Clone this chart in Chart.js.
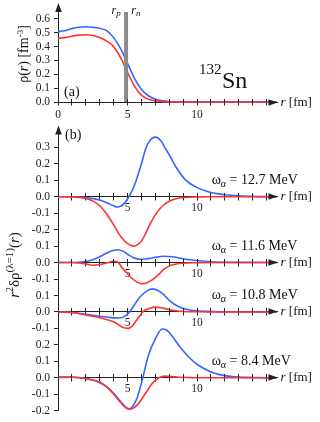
<!DOCTYPE html>
<html><head><meta charset="utf-8">
<script src="https://cdn.jsdelivr.net/npm/chart.js@4.4.1/dist/chart.umd.min.js"></script>
<style>
html,body{margin:0;padding:0;background:#fff;}
#wrap{position:relative;width:320px;height:422px;overflow:hidden;background:#fff;}
canvas{position:absolute;left:0;}
#ca{top:0;width:320px;height:122px;}
#cb{top:120px;width:320px;height:302px;}
</style></head><body>
<div id="wrap"><canvas id="ca" width="320" height="122"></canvas><canvas id="cb" width="320" height="302"></canvas></div>
<script>
// ---------- DATA ----------
// panel (a): ground-state densities of 132Sn
const rA   = [0,0.5,1,1.5,2,2.5,3,3.5,4,4.5,5,5.5,6,6.5,7,7.5,8,9,10,12,15.75];
const rhoN = [0.508,0.515,0.53,0.54,0.543,0.54,0.532,0.515,0.465,0.385,0.28,0.17,0.09,0.045,0.02,0.009,0.004,0.001,0,0,0];
const rhoP = [0.46,0.465,0.475,0.483,0.486,0.48,0.465,0.44,0.40,0.32,0.215,0.115,0.05,0.02,0.008,0.003,0.001,0,0,0,0];
const radii = [4.75, 5.05];        // r_p, r_n
const barTop = 0.65;
const rhoTicks = [0,0.1,0.2,0.3,0.4,0.5,0.6];
const rTicks = [0,1,2,3,4,5,6,7,8,9,10,11,12,13,14,15];
const rLabelsA = [0,5,10];
const rLabelsB = [5,10];
const rMax = 15.75;

// panel (b): transition densities r^2 drho(r)
const energies = ['12.7','11.6','10.8','8.4'];
const r127n = [0,1,2,2.5,3,3.5,4,4.25,4.5,4.75,5.1,5.5,5.8,6.0,6.3,6.6,7.0,7.4,7.7,8.0,8.45,9.15,9.9,10.8,12,13,14,15.75];
const d127n = [0,0,-0.005,-0.011,-0.02,-0.036,-0.055,-0.062,-0.058,-0.042,0,0.07,0.146,0.2,0.29,0.34,0.362,0.34,0.296,0.255,0.185,0.104,0.06,0.03,0.012,0.005,0.002,0];
const r127p = [0,1,1.5,2,2.5,3,3.5,4,4.5,5,5.45,5.9,6.2,6.6,7,7.5,8,8.5,9,10,11,15.75];
const d127p = [0,-0.001,-0.004,-0.01,-0.025,-0.055,-0.105,-0.17,-0.24,-0.285,-0.30,-0.28,-0.24,-0.17,-0.11,-0.058,-0.027,-0.012,-0.005,-0.001,0,0];

const r116n = [0,1,1.5,2,2.5,3,3.5,4,4.3,4.7,5.1,5.5,6,6.5,7,7.6,8.2,8.9,9.5,10.1,11,12,13,15.75];
const d116n = [0,0,0.002,0.006,0.017,0.035,0.058,0.075,0.078,0.068,0.045,0.027,0.019,0.024,0.032,0.038,0.035,0.025,0.017,0.011,0.005,0.002,0.001,0];
const r116p = [0,1,1.5,2,2.45,3,3.5,4,4.3,4.6,5,5.5,6,6.4,6.8,7.2,7.6,8,8.5,9,10,11,15.75];
const d116p = [0,0,-0.003,-0.008,-0.016,-0.012,-0.002,0.008,0.003,-0.03,-0.068,-0.108,-0.128,-0.122,-0.104,-0.075,-0.042,-0.02,-0.009,-0.004,-0.001,0,0];

const r108n = [0,1,1.5,2,2.5,3,3.5,4,4.4,4.8,5.1,5.4,5.7,6,6.4,6.8,7.2,7.6,8,8.4,8.9,9.5,10,11,12,15.75];
const d108n = [0,-0.003,-0.008,-0.014,-0.02,-0.026,-0.031,-0.036,-0.037,-0.027,-0.005,0.03,0.07,0.1,0.128,0.14,0.13,0.105,0.07,0.045,0.024,0.012,0.007,0.003,0.001,0];
const r108p = [0,1,1.5,2,2.5,3,3.5,4,4.3,4.6,5.05,5.35,5.65,5.95,6.2,6.6,7,7.5,8,8.5,9,10,11,15.75];
const d108p = [0,-0.003,-0.01,-0.018,-0.026,-0.035,-0.046,-0.06,-0.075,-0.092,-0.1,-0.085,-0.05,-0.015,0.008,0.022,0.029,0.024,0.014,0.007,0.003,0.001,0,0];

const r84n = [0,1,1.5,2,2.5,3,3.5,4,4.5,5,5.15,5.4,5.7,6.1,6.5,7,7.5,7.8,8,8.7,9.4,10.1,11.1,12,13,14,15.75];
const d84n = [0.004,0.005,0.002,-0.004,-0.014,-0.03,-0.055,-0.094,-0.145,-0.186,-0.19,-0.17,-0.12,0,0.136,0.236,0.296,0.29,0.275,0.196,0.126,0.076,0.032,0.013,0.004,0.002,0];
const r84p = [0,1,1.5,2,2.5,3,3.5,4,4.5,5,5.2,5.7,6.3,6.8,7.25,7.7,8.2,8.7,9.5,10,15.75];
const d84p = [0.002,0.003,0,-0.005,-0.013,-0.026,-0.055,-0.098,-0.15,-0.188,-0.19,-0.165,-0.094,-0.032,0,0.01,0.007,0.003,0.001,0,0];

const yRanges = [[-0.3,0.4],[-0.2,0.1],[-0.2,0.1],[-0.2,0.2]];
const yTickVals = [[0.3,0.2,0.1,0,-0.1,-0.2],[0.1,0,-0.1],[0.1,0,-0.1],[0.2,0.1,0,-0.1,-0.2]];
const seriesB = [[r127p,d127p,r127n,d127n],[r116p,d116p,r116n,d116n],[r108p,d108p,r108n,d108n],[r84p,d84p,r84n,d84n]];

// ---------- STYLE ----------
const BLUE = '#3366ff', RED = '#ff3333', GRAY = '#8a8a8a', AX = '#222', TXT = '#111';
const FAM = "'Liberation Serif', serif";
Chart.defaults.font.family = FAM;
Chart.defaults.font.size = 11;
const tickFont = {family: FAM, size: 11.5};
const F = (s, st) => (st ? st + ' ' : '') + s + 'px ' + FAM;
const pts = (xs, ys) => xs.map((x, i) => ({x, y: ys[i]}));
const line = (data, color, xid, yid) => ({data, borderColor: color, borderWidth: 1.6, pointRadius: 0,
  cubicInterpolationMode: 'monotone', fill: false, clip: false, xAxisID: xid, yAxisID: yid});
const align = v => Math.round(v - 0.5) + 0.5;

function drawRuns(ctx, x, y, parts, opts) {
  opts = opts || {};
  ctx.save(); ctx.translate(x, y); if (opts.rotate) ctx.rotate(opts.rotate);
  ctx.fillStyle = TXT; ctx.textBaseline = 'alphabetic'; ctx.textAlign = 'left';
  let total = 0;
  for (const p of parts) { ctx.font = p.f; total += ctx.measureText(p.t).width; }
  let cx = opts.center ? -total / 2 : 0;
  for (const p of parts) { ctx.font = p.f; ctx.fillText(p.t, cx, p.dy || 0); cx += ctx.measureText(p.t).width; }
  ctx.restore();
}
function arrow(ctx, tx, ty, dir) {
  const L = 9, W = 3.3;
  ctx.beginPath();
  if (dir === 'up') { ctx.moveTo(tx, ty); ctx.lineTo(tx - W, ty + L); ctx.lineTo(tx + W, ty + L); }
  else { ctx.moveTo(tx, ty); ctx.lineTo(tx - L, ty - W); ctx.lineTo(tx - L, ty + W); }
  ctx.closePath(); ctx.fill();
}
function xAxisDecor(ctx, xs, y0) {
  const yy = align(y0);
  ctx.beginPath();
  for (const t of rTicks) { const px = align(xs.getPixelForValue(t)); ctx.moveTo(px, yy); ctx.lineTo(px, yy - 3.5); }
  ctx.stroke();
  arrow(ctx, xs.right + 0.5, yy, 'right');
  drawRuns(ctx, xs.right + 3.5, yy + 3.5, [{t: 'r', f: F(13, 'italic')}, {t: ' [fm]', f: F(13)}]);
}
const common = {responsive: false, animation: false, devicePixelRatio: 1, events: [],
  plugins: {legend: {display: false}, tooltip: {enabled: false}, title: {display: false}}};

// ---------- PANEL (a) ----------
const decorA = {id: 'decorA', afterDraw(chart) {
  const {ctx, chartArea: a, scales: {x, y}} = chart;
  ctx.save(); ctx.strokeStyle = AX; ctx.fillStyle = AX; ctx.lineWidth = 1;
  const ax = align(x.getPixelForValue(0));
  ctx.beginPath(); ctx.moveTo(ax, a.top); ctx.lineTo(ax, 11); ctx.stroke();
  arrow(ctx, ax, 3, 'up');
  xAxisDecor(ctx, x, y.getPixelForValue(0));
  ctx.restore();
  drawRuns(ctx, 64, 96, [{t: '(a)', f: F(14)}]);
  drawRuns(ctx, 199, 74, [{t: '132', f: F(15)}]);
  drawRuns(ctx, 222, 87.5, [{t: 'Sn', f: F(24)}]);
  const bx0 = x.getPixelForValue(radii[0]), bx1 = x.getPixelForValue(radii[1]);
  drawRuns(ctx, bx0 - 12.5, 13.5, [{t: 'r', f: F(12, 'italic')}, {t: 'p', f: F(9, 'italic'), dy: 2.5}]);
  drawRuns(ctx, bx1 + 3, 13.5, [{t: 'r', f: F(12, 'italic')}, {t: 'n', f: F(9, 'italic'), dy: 2.5}]);
  drawRuns(ctx, 28, 54, [{t: 'ρ(', f: F(14)}, {t: 'r', f: F(14, 'italic')}, {t: ') [fm', f: F(14)},
    {t: '-3', f: F(9), dy: -5.5}, {t: ']', f: F(14)}], {rotate: -Math.PI / 2, center: true});
}};

new Chart(document.getElementById('ca'), {
  type: 'line',
  data: {datasets: [
    {data: radii.map(r => ({x: r, y: barTop})), fill: 'origin', backgroundColor: GRAY, borderWidth: 0,
     pointRadius: 0, tension: 0, clip: false},
    line(pts(rA, rhoP), RED, 'x', 'y'),
    line(pts(rA, rhoN), BLUE, 'x', 'y')
  ]},
  options: Object.assign({}, common, {
    layout: {padding: {left: 0, right: 43, top: 12, bottom: 0}},
    scales: {
      x: {type: 'linear', position: 'bottom', min: 0, max: rMax,
        afterBuildTicks: s => { s.ticks = rTicks.map(v => ({value: v})); },
        afterFit: s => { s.height = 20; },
        ticks: {autoSkip: false, maxRotation: 0, padding: 3, color: AX, font: tickFont,
          callback: v => rLabelsA.includes(v) ? String(v) : ''},
        grid: {drawOnChartArea: false, drawTicks: true, tickLength: 3.5, color: AX},
        border: {display: true, color: AX, width: 1}},
      y: {type: 'linear', position: 'left', min: 0, max: barTop,
        afterBuildTicks: s => { s.ticks = rhoTicks.map(v => ({value: v})); },
        afterFit: s => { s.width = 58; },
        ticks: {autoSkip: false, padding: 4, color: AX, font: tickFont, callback: v => v.toFixed(1)},
        grid: {drawOnChartArea: false, drawTicks: true, tickLength: 4, color: AX},
        border: {display: true, color: AX, width: 1}}
    }
  }),
  plugins: [decorA]
});

// ---------- PANEL (b) ----------
const scalesB = {};
const datasetsB = [];
energies.forEach((E, i) => {
  const xid = 'x' + i, yid = 'y' + i;
  const [lo, hi] = yRanges[i];
  scalesB[yid] = {type: 'linear', position: 'left', stack: 'b', stackWeight: Math.round((hi - lo) * 10),
    weight: 10 - i, min: lo, max: hi,
    afterBuildTicks: s => { s.ticks = yTickVals[i].map(v => ({value: v})); },
    afterFit: s => { s.width = 58; },
    ticks: {autoSkip: false, padding: 4, color: AX, font: tickFont, callback: v => v.toFixed(1)},
    grid: {drawOnChartArea: false, drawTicks: true, tickLength: 4, color: AX},
    border: {display: true, color: AX, width: 1}};
  scalesB[xid] = {type: 'linear', position: {[yid]: 0}, min: 0, max: rMax,
    afterBuildTicks: s => { s.ticks = rTicks.map(v => ({value: v})); },
    ticks: {autoSkip: false, maxRotation: 0, padding: 1, color: AX, font: tickFont,
      callback: v => rLabelsB.includes(v) ? String(v) : ''},
    grid: {drawOnChartArea: false, drawTicks: true, tickLength: 3.5, color: AX},
    border: {display: true, color: AX, width: 1}};
  const [rp, dp, rn, dn] = seriesB[i];
  datasetsB.push(line(pts(rp, dp), RED, xid, yid));
  datasetsB.push(line(pts(rn, dn), BLUE, xid, yid));
});

const decorB = {id: 'decorB', afterDraw(chart) {
  const {ctx, chartArea: a, scales} = chart;
  ctx.save(); ctx.strokeStyle = AX; ctx.fillStyle = AX; ctx.lineWidth = 1;
  const ax = align(scales.x0.getPixelForValue(0));
  ctx.beginPath(); ctx.moveTo(ax, a.top); ctx.lineTo(ax, 13); ctx.stroke();
  arrow(ctx, ax, 5.5, 'up');
  energies.forEach((E, i) => {
    const xs = scales['x' + i], y0 = scales['y' + i].getPixelForValue(0);
    xAxisDecor(ctx, xs, y0);
  });
  ctx.restore();
  energies.forEach((E, i) => {
    const xs = scales['x' + i], y0 = scales['y' + i].getPixelForValue(0);
    drawRuns(ctx, xs.getPixelForValue(11.05), y0 - 13, [{t: 'ω', f: F(14)}, {t: 'α', f: F(10), dy: 3.5},
      {t: ' = ' + E + ' MeV', f: F(14)}]);
  });
  drawRuns(ctx, 65, 19, [{t: '(b)', f: F(14)}]);
  drawRuns(ctx, 19, 145, [{t: 'r', f: F(15, 'italic')}, {t: '2', f: F(10), dy: -6}, {t: 'δρ', f: F(15)},
    {t: '(λ=1)', f: F(11), dy: -6}, {t: '(', f: F(15)}, {t: 'r', f: F(15, 'italic')}, {t: ')', f: F(15)}],
    {rotate: -Math.PI / 2, center: true});
}};

new Chart(document.getElementById('cb'), {
  type: 'line',
  data: {datasets: datasetsB},
  options: Object.assign({}, common, {
    layout: {padding: {left: 0, right: 43, top: 7.6, bottom: 11.3}},
    scales: scalesB
  }),
  plugins: [decorB]
});
</script>
</body></html>
